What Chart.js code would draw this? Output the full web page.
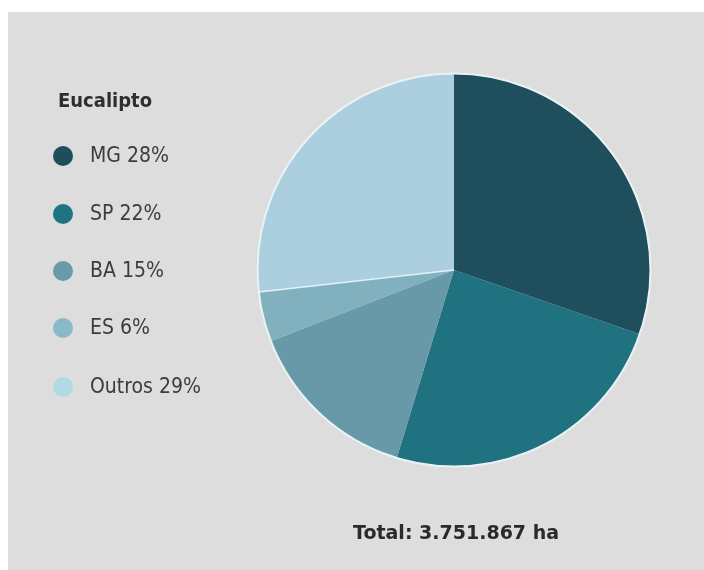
<!DOCTYPE html>
<html>
<head>
<meta charset="utf-8">
<script src="https://cdn.jsdelivr.net/npm/chart.js@4"></script>
<style>
  html, body { margin: 0; padding: 0; background: #ffffff; }
  #wrap { width: 704px; height: 570px; position: relative; }
</style>
</head>
<body>
<div id="wrap"><canvas id="c" width="704" height="570"></canvas></div>
<script>
// ---- data ----
const regions = ['MG', 'SP', 'BA', 'ES', 'Outros'];
const percentLabels = ['28%', '22%', '15%', '6%', '29%'];
// slice shares as drawn in the picture (percent of the circle)
const sliceShares = [30.3, 24.4, 14.4, 4.1, 26.8];
const sliceColors = ['#1f4f5d', '#207281', '#6799a8', '#81b1bf', '#accfdf'];
const legendColors = ['#1e4d5b', '#1f7482', '#6a9aa9', '#89bac8', '#b3d8e5'];
const legendTitle = 'Eucalipto';
const totalText = 'Total: 3.751.867 ha';

const decor = {
  id: 'decor',
  beforeDraw(chart) {
    const ctx = chart.ctx;
    ctx.save();
    ctx.fillStyle = '#ffffff';
    ctx.fillRect(0, 0, chart.width, chart.height);
    ctx.fillStyle = '#dddddd';
    ctx.fillRect(8, 12, chart.width - 8, chart.height - 12);
    ctx.restore();
  },
  afterDatasetsDraw(chart) {
    const ctx = chart.ctx;
    const arc = chart.getDatasetMeta(0).data[0];
    ctx.save();
    ctx.beginPath();
    ctx.arc(arc.x, arc.y, arc.outerRadius + 0.5, 0, Math.PI * 2);
    ctx.strokeStyle = '#e9f3f6';
    ctx.lineWidth = 2;
    ctx.stroke();
    // thin light separator between the last and first slice group (ES / Outros)
    const a = chart.getDatasetMeta(0).data[4];
    ctx.beginPath();
    ctx.moveTo(arc.x, arc.y);
    ctx.lineTo(arc.x + Math.cos(a.startAngle) * a.outerRadius, arc.y + Math.sin(a.startAngle) * a.outerRadius);
    ctx.strokeStyle = 'rgba(235,245,248,0.9)';
    ctx.lineWidth = 1.5;
    ctx.stroke();

    // legend
    ctx.fillStyle = '#2e2e2e';
    ctx.font = 'bold 20px "DejaVu Sans Condensed", "DejaVu Sans", sans-serif';
    ctx.textBaseline = 'middle';
    ctx.textAlign = 'left';
    ctx.fillText(legendTitle, 58, 102);
    const ys = [156, 214, 271, 328, 387];
    ctx.font = '21px "DejaVu Sans Condensed", "DejaVu Sans", sans-serif';
    regions.forEach((r, i) => {
      ctx.beginPath();
      ctx.arc(63, ys[i], 10, 0, Math.PI * 2);
      ctx.fillStyle = legendColors[i];
      ctx.fill();
      ctx.fillStyle = '#3c3c3c';
      ctx.fillText(r + ' ' + percentLabels[i], 90, ys[i] + 1);
    });

    // total
    ctx.font = 'bold 19px "DejaVu Sans", sans-serif';
    ctx.fillStyle = '#2a2a2a';
    ctx.textAlign = 'center';
    ctx.fillText(totalText, 456, 534);
    ctx.restore();
  }
};

new Chart(document.getElementById('c'), {
  type: 'pie',
  data: {
    labels: regions.map((r, i) => r + ' ' + percentLabels[i]),
    datasets: [{
      data: sliceShares,
      backgroundColor: sliceColors,
      borderWidth: 0
    }]
  },
  options: {
    responsive: false,
    animation: false,
    layout: { padding: { left: 258, right: 54, top: 74, bottom: 104 } },
    plugins: {
      legend: { display: false },
      tooltip: { enabled: false }
    }
  },
  plugins: [decor]
});
</script>
</body>
</html>
